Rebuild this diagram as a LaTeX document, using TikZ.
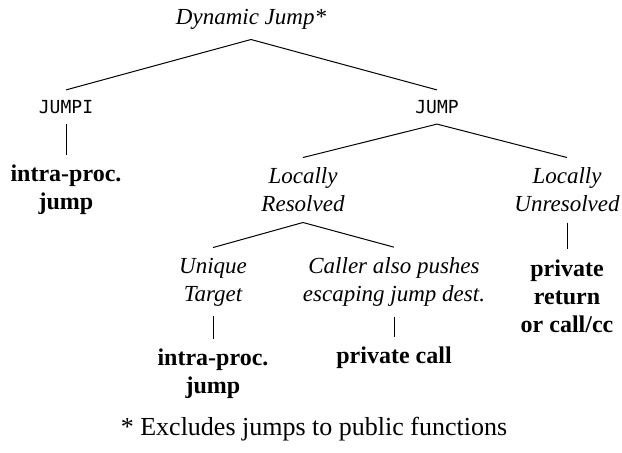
\documentclass[tikz,border=0pt]{standalone}
\usepackage{fontspec}
\setmainfont{Liberation Serif}
\setmonofont{DejaVu Sans Mono}
\tikzset{
    tree-node/.style = {align=center, inner sep=5pt, font=\fontsize{11.5}{14}\selectfont},
    tree-cat/.style = {tree-node, font=\fontsize{11.5}{14}\selectfont\itshape},
    tree-leaf/.style = {tree-node, font=\fontsize{12}{14}\selectfont\bfseries},
    tree-op/.style = {tree-node, font=\fontsize{9}{11}\selectfont\ttfamily},
    tree-note/.style = {tree-node, font=\fontsize{13}{15}\selectfont},
    tree-edge/.style = {draw, line width=0.5pt},
}
\begin{document}
\begin{tikzpicture}[x=0.5pt, y=-0.5pt]
\useasboundingbox (0,0) rectangle (622,452);
\node[tree-cat] (dyn) at (251,19) {Dynamic Jump*};
\node[tree-op] (jumpi) at (66,107) {JUMPI};
\node[tree-op] (jump) at (437,107) {JUMP};
\node[tree-leaf] (intra) at (66,190) {intra-proc.\\jump};
\node[tree-cat] (resolved) at (303,190) {Locally\\Resolved};
\node[tree-cat] (unresolved) at (567,190) {Locally\\Unresolved};
\node[tree-cat] (unique) at (213,282) {Unique\\Target};
\node[tree-cat] (caller) at (394,282) {Caller also pushes\\escaping jump dest.};
\node[tree-leaf] (ret) at (567,296) {private\\return\\or call/cc};
\node[tree-leaf] (intra2) at (213,374) {intra-proc.\\jump};
\node[tree-leaf] (pcall) at (394,358) {private call};
\node[tree-note] (note) at (314,429) {* Excludes jumps to public functions};
\draw[tree-edge] (dyn.south) -- (jumpi.north) (dyn.south) -- (jump.north);
\draw[tree-edge] (jumpi.south) -- (intra.north);
\draw[tree-edge] (jump.south) -- (resolved.north) (jump.south) -- (unresolved.north);
\draw[tree-edge] (resolved.south) -- (unique.north) (resolved.south) -- (caller.north);
\draw[tree-edge] (unresolved.south) -- (ret.north);
\draw[tree-edge] (unique.south) -- (intra2.north);
\draw[tree-edge] (caller.south) -- (pcall.north);
\end{tikzpicture}
\end{document}
